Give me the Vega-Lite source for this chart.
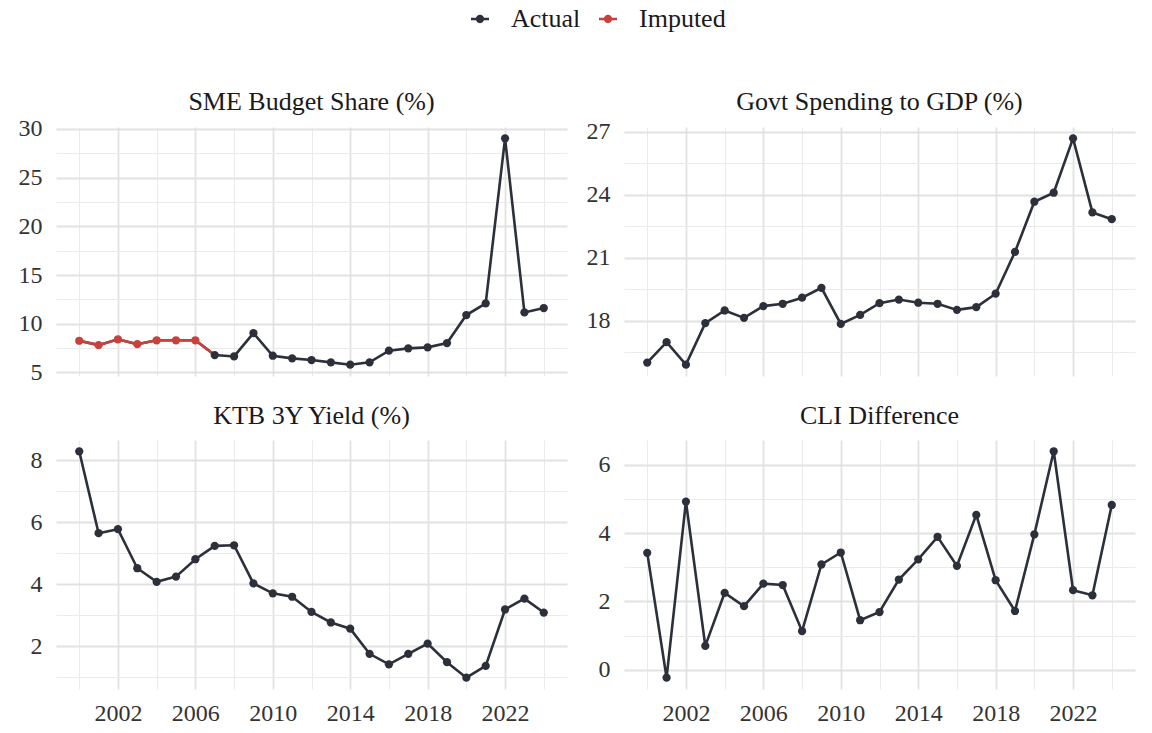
{
  "$schema": "https://vega.github.io/schema/vega-lite/v6.json",
  "description": "Four small multiples of Korean macro series, 2000-2024, with imputed SME budget share shown in red.",
  "background": "white",
  "padding": {"left": 18, "top": 6, "right": 18, "bottom": 8},
  "data": {
    "values": [
      {"panel": "SME", "year": 2000, "value": 8.25, "status": "Imputed"},
      {"panel": "SME", "year": 2001, "value": 7.8, "status": "Imputed"},
      {"panel": "SME", "year": 2002, "value": 8.4, "status": "Imputed"},
      {"panel": "SME", "year": 2003, "value": 7.9, "status": "Imputed"},
      {"panel": "SME", "year": 2004, "value": 8.3, "status": "Imputed"},
      {"panel": "SME", "year": 2005, "value": 8.3, "status": "Imputed"},
      {"panel": "SME", "year": 2006, "value": 8.3, "status": "Imputed"},
      {"panel": "SME", "year": 2007, "value": 6.78, "status": "Actual"},
      {"panel": "SME", "year": 2008, "value": 6.64, "status": "Actual"},
      {"panel": "SME", "year": 2009, "value": 9.04, "status": "Actual"},
      {"panel": "SME", "year": 2010, "value": 6.71, "status": "Actual"},
      {"panel": "SME", "year": 2011, "value": 6.44, "status": "Actual"},
      {"panel": "SME", "year": 2012, "value": 6.27, "status": "Actual"},
      {"panel": "SME", "year": 2013, "value": 6.03, "status": "Actual"},
      {"panel": "SME", "year": 2014, "value": 5.79, "status": "Actual"},
      {"panel": "SME", "year": 2015, "value": 6.03, "status": "Actual"},
      {"panel": "SME", "year": 2016, "value": 7.23, "status": "Actual"},
      {"panel": "SME", "year": 2017, "value": 7.47, "status": "Actual"},
      {"panel": "SME", "year": 2018, "value": 7.57, "status": "Actual"},
      {"panel": "SME", "year": 2019, "value": 8.01, "status": "Actual"},
      {"panel": "SME", "year": 2020, "value": 10.89, "status": "Actual"},
      {"panel": "SME", "year": 2021, "value": 12.09, "status": "Actual"},
      {"panel": "SME", "year": 2022, "value": 29.04, "status": "Actual"},
      {"panel": "SME", "year": 2023, "value": 11.16, "status": "Actual"},
      {"panel": "SME", "year": 2024, "value": 11.61, "status": "Actual"},
      {"panel": "GOV", "year": 2000, "value": 16.0, "status": "Actual"},
      {"panel": "GOV", "year": 2001, "value": 16.97, "status": "Actual"},
      {"panel": "GOV", "year": 2002, "value": 15.9, "status": "Actual"},
      {"panel": "GOV", "year": 2003, "value": 17.88, "status": "Actual"},
      {"panel": "GOV", "year": 2004, "value": 18.48, "status": "Actual"},
      {"panel": "GOV", "year": 2005, "value": 18.13, "status": "Actual"},
      {"panel": "GOV", "year": 2006, "value": 18.69, "status": "Actual"},
      {"panel": "GOV", "year": 2007, "value": 18.8, "status": "Actual"},
      {"panel": "GOV", "year": 2008, "value": 19.09, "status": "Actual"},
      {"panel": "GOV", "year": 2009, "value": 19.56, "status": "Actual"},
      {"panel": "GOV", "year": 2010, "value": 17.84, "status": "Actual"},
      {"panel": "GOV", "year": 2011, "value": 18.27, "status": "Actual"},
      {"panel": "GOV", "year": 2012, "value": 18.83, "status": "Actual"},
      {"panel": "GOV", "year": 2013, "value": 19.0, "status": "Actual"},
      {"panel": "GOV", "year": 2014, "value": 18.85, "status": "Actual"},
      {"panel": "GOV", "year": 2015, "value": 18.8, "status": "Actual"},
      {"panel": "GOV", "year": 2016, "value": 18.51, "status": "Actual"},
      {"panel": "GOV", "year": 2017, "value": 18.64, "status": "Actual"},
      {"panel": "GOV", "year": 2018, "value": 19.28, "status": "Actual"},
      {"panel": "GOV", "year": 2019, "value": 21.27, "status": "Actual"},
      {"panel": "GOV", "year": 2020, "value": 23.66, "status": "Actual"},
      {"panel": "GOV", "year": 2021, "value": 24.09, "status": "Actual"},
      {"panel": "GOV", "year": 2022, "value": 26.68, "status": "Actual"},
      {"panel": "GOV", "year": 2023, "value": 23.15, "status": "Actual"},
      {"panel": "GOV", "year": 2024, "value": 22.83, "status": "Actual"},
      {"panel": "KTB", "year": 2000, "value": 8.29, "status": "Actual"},
      {"panel": "KTB", "year": 2001, "value": 5.65, "status": "Actual"},
      {"panel": "KTB", "year": 2002, "value": 5.78, "status": "Actual"},
      {"panel": "KTB", "year": 2003, "value": 4.52, "status": "Actual"},
      {"panel": "KTB", "year": 2004, "value": 4.08, "status": "Actual"},
      {"panel": "KTB", "year": 2005, "value": 4.25, "status": "Actual"},
      {"panel": "KTB", "year": 2006, "value": 4.81, "status": "Actual"},
      {"panel": "KTB", "year": 2007, "value": 5.24, "status": "Actual"},
      {"panel": "KTB", "year": 2008, "value": 5.26, "status": "Actual"},
      {"panel": "KTB", "year": 2009, "value": 4.03, "status": "Actual"},
      {"panel": "KTB", "year": 2010, "value": 3.71, "status": "Actual"},
      {"panel": "KTB", "year": 2011, "value": 3.6, "status": "Actual"},
      {"panel": "KTB", "year": 2012, "value": 3.11, "status": "Actual"},
      {"panel": "KTB", "year": 2013, "value": 2.77, "status": "Actual"},
      {"panel": "KTB", "year": 2014, "value": 2.57, "status": "Actual"},
      {"panel": "KTB", "year": 2015, "value": 1.76, "status": "Actual"},
      {"panel": "KTB", "year": 2016, "value": 1.42, "status": "Actual"},
      {"panel": "KTB", "year": 2017, "value": 1.76, "status": "Actual"},
      {"panel": "KTB", "year": 2018, "value": 2.09, "status": "Actual"},
      {"panel": "KTB", "year": 2019, "value": 1.49, "status": "Actual"},
      {"panel": "KTB", "year": 2020, "value": 0.99, "status": "Actual"},
      {"panel": "KTB", "year": 2021, "value": 1.37, "status": "Actual"},
      {"panel": "KTB", "year": 2022, "value": 3.19, "status": "Actual"},
      {"panel": "KTB", "year": 2023, "value": 3.54, "status": "Actual"},
      {"panel": "KTB", "year": 2024, "value": 3.09, "status": "Actual"},
      {"panel": "CLI", "year": 2000, "value": 3.42, "status": "Actual"},
      {"panel": "CLI", "year": 2001, "value": -0.23, "status": "Actual"},
      {"panel": "CLI", "year": 2002, "value": 4.92, "status": "Actual"},
      {"panel": "CLI", "year": 2003, "value": 0.7, "status": "Actual"},
      {"panel": "CLI", "year": 2004, "value": 2.25, "status": "Actual"},
      {"panel": "CLI", "year": 2005, "value": 1.86, "status": "Actual"},
      {"panel": "CLI", "year": 2006, "value": 2.52, "status": "Actual"},
      {"panel": "CLI", "year": 2007, "value": 2.48, "status": "Actual"},
      {"panel": "CLI", "year": 2008, "value": 1.13, "status": "Actual"},
      {"panel": "CLI", "year": 2009, "value": 3.08, "status": "Actual"},
      {"panel": "CLI", "year": 2010, "value": 3.43, "status": "Actual"},
      {"panel": "CLI", "year": 2011, "value": 1.45, "status": "Actual"},
      {"panel": "CLI", "year": 2012, "value": 1.69, "status": "Actual"},
      {"panel": "CLI", "year": 2013, "value": 2.64, "status": "Actual"},
      {"panel": "CLI", "year": 2014, "value": 3.23, "status": "Actual"},
      {"panel": "CLI", "year": 2015, "value": 3.89, "status": "Actual"},
      {"panel": "CLI", "year": 2016, "value": 3.04, "status": "Actual"},
      {"panel": "CLI", "year": 2017, "value": 4.53, "status": "Actual"},
      {"panel": "CLI", "year": 2018, "value": 2.62, "status": "Actual"},
      {"panel": "CLI", "year": 2019, "value": 1.72, "status": "Actual"},
      {"panel": "CLI", "year": 2020, "value": 3.96, "status": "Actual"},
      {"panel": "CLI", "year": 2021, "value": 6.39, "status": "Actual"},
      {"panel": "CLI", "year": 2022, "value": 2.33, "status": "Actual"},
      {"panel": "CLI", "year": 2023, "value": 2.18, "status": "Actual"},
      {"panel": "CLI", "year": 2024, "value": 4.82, "status": "Actual"}
    ]
  },
  "columns": 2,
  "bounds": "flush",
  "spacing": {"row": 64, "column": 57},
  "concat": [
    {
      "title": {"text": "SME Budget Share (%)", "offset": 2},
      "width": 511,
      "height": 249,
      "transform": [{"filter": "datum.panel === 'SME'"}],
      "layer": [
        {
          "mark": {"type": "line", "color": "#2b303a", "strokeWidth": 2.6},
          "encoding": {
            "x": {"field": "year", "type": "quantitative", "scale": {"domain": [1998.8, 2025.2], "nice": false, "zero": false},
                  "axis": {"title": null, "orient": "bottom", "values": [2002, 2006, 2010, 2014, 2018, 2022], "labels": false, "grid": true, "gridWidth": 1.8}},
            "y": {"field": "value", "type": "quantitative", "scale": {"domain": [4.63, 30.2], "nice": false, "zero": false},
                  "axis": {"title": null, "orient": "left", "values": [5, 10, 15, 20, 25, 30], "grid": true, "gridWidth": 1.8}}
          }
        },
        {
          "transform": [{"filter": "datum.year <= 2007"}],
          "mark": {"type": "line", "color": "#c9413d", "strokeWidth": 2.6},
          "encoding": {
            "x": {"field": "year", "type": "quantitative", "axis": null},
            "y": {"field": "value", "type": "quantitative", "axis": null}
          }
        },
        {
          "transform": [{"filter": "datum.status === 'Actual'"}],
          "mark": {"type": "point", "filled": true, "size": 68, "opacity": 1, "color": "#2b303a"},
          "encoding": {
            "x": {"field": "year", "type": "quantitative",
                  "axis": {"title": null, "orient": "top", "values": [2000, 2004, 2008, 2012, 2016, 2020, 2024], "labels": false, "grid": true, "gridWidth": 1, "gridColor": "#ebebeb", "minExtent": 0}},
            "y": {"field": "value", "type": "quantitative",
                  "axis": {"title": null, "orient": "right", "values": [7.5, 12.5, 17.5, 22.5, 27.5], "labels": false, "grid": true, "gridWidth": 1, "gridColor": "#ebebeb", "minExtent": 0}}
          }
        },
        {
          "transform": [{"filter": "datum.status === 'Imputed'"}],
          "mark": {"type": "point", "filled": true, "size": 68, "opacity": 1, "color": "#c9413d"},
          "encoding": {
            "x": {"field": "year", "type": "quantitative", "axis": null},
            "y": {"field": "value", "type": "quantitative", "axis": null}
          }
        },
        {
          "mark": {"type": "point", "filled": true, "opacity": 0, "size": 324,
                   "shape": "M-1,-0.13L1,-0.13L1,0.13L-1,0.13Z M-0.46,0A0.46,0.46,0,1,1,0.46,0A0.46,0.46,0,1,1,-0.46,0Z"},
          "encoding": {
            "x": {"field": "year", "type": "quantitative", "axis": null},
            "y": {"field": "value", "type": "quantitative", "axis": null},
            "color": {"field": "status", "type": "nominal",
                      "scale": {"domain": ["Actual", "Imputed"], "range": ["#2b303a", "#c9413d"]},
                      "legend": {"title": null, "orient": "none", "direction": "horizontal", "legendX": 411, "legendY": -121,
                                 "symbolOpacity": 1, "symbolSize": 324, "labelFontSize": 26, "labelOffset": 18, "columnPadding": 14, "padding": 0,
                                 "labelColor": "#1a1a1a", "labelFont": "Liberation Serif"}}
          }
        }
      ],
      "resolve": {"axis": {"x": "independent", "y": "independent"}}
    },
    {
      "title": {"text": "Govt Spending to GDP (%)", "offset": 5},
      "width": 511,
      "height": 249,
      "transform": [{"filter": "datum.panel === 'GOV'"}],
      "layer": [
        {
          "mark": {"type": "line", "color": "#2b303a", "strokeWidth": 2.6},
          "encoding": {
            "x": {"field": "year", "type": "quantitative", "scale": {"domain": [1998.8, 2025.2], "nice": false, "zero": false},
                  "axis": {"title": null, "orient": "bottom", "values": [2002, 2006, 2010, 2014, 2018, 2022], "labels": false, "grid": true, "gridWidth": 1.8}},
            "y": {"field": "value", "type": "quantitative", "scale": {"domain": [15.36, 27.22], "nice": false, "zero": false},
                  "axis": {"title": null, "orient": "left", "values": [18, 21, 24, 27], "grid": true, "gridWidth": 1.8}}
          }
        },
        {
          "mark": {"type": "point", "filled": true, "size": 68, "opacity": 1, "color": "#2b303a"},
          "encoding": {
            "x": {"field": "year", "type": "quantitative",
                  "axis": {"title": null, "orient": "top", "values": [2000, 2004, 2008, 2012, 2016, 2020, 2024], "labels": false, "grid": true, "gridWidth": 1, "gridColor": "#ebebeb", "minExtent": 0}},
            "y": {"field": "value", "type": "quantitative",
                  "axis": {"title": null, "orient": "right", "values": [16.5, 19.5, 22.5, 25.5], "labels": false, "grid": true, "gridWidth": 1, "gridColor": "#ebebeb", "minExtent": 0}}
          }
        }
      ],
      "resolve": {"axis": {"x": "independent", "y": "independent"}}
    },
    {
      "title": {"text": "KTB 3Y Yield (%)", "offset": 11},
      "width": 511,
      "height": 249,
      "transform": [{"filter": "datum.panel === 'KTB'"}],
      "layer": [
        {
          "mark": {"type": "line", "color": "#2b303a", "strokeWidth": 2.6},
          "encoding": {
            "x": {"field": "year", "type": "quantitative", "scale": {"domain": [1998.8, 2025.2], "nice": false, "zero": false},
                  "axis": {"title": null, "orient": "bottom", "values": [2002, 2006, 2010, 2014, 2018, 2022], "format": "d", "grid": true, "gridWidth": 1.8}},
            "y": {"field": "value", "type": "quantitative", "scale": {"domain": [0.625, 8.655], "nice": false, "zero": false},
                  "axis": {"title": null, "orient": "left", "values": [2, 4, 6, 8], "grid": true, "gridWidth": 1.8}}
          }
        },
        {
          "mark": {"type": "point", "filled": true, "size": 68, "opacity": 1, "color": "#2b303a"},
          "encoding": {
            "x": {"field": "year", "type": "quantitative",
                  "axis": {"title": null, "orient": "top", "values": [2000, 2004, 2008, 2012, 2016, 2020, 2024], "labels": false, "grid": true, "gridWidth": 1, "gridColor": "#ebebeb", "minExtent": 0}},
            "y": {"field": "value", "type": "quantitative",
                  "axis": {"title": null, "orient": "right", "values": [1, 3, 5, 7], "labels": false, "grid": true, "gridWidth": 1, "gridColor": "#ebebeb", "minExtent": 0}}
          }
        }
      ],
      "resolve": {"axis": {"x": "independent", "y": "independent"}}
    },
    {
      "title": {"text": "CLI Difference", "offset": 11},
      "width": 511,
      "height": 249,
      "transform": [{"filter": "datum.panel === 'CLI'"}],
      "layer": [
        {
          "mark": {"type": "line", "color": "#2b303a", "strokeWidth": 2.6},
          "encoding": {
            "x": {"field": "year", "type": "quantitative", "scale": {"domain": [1998.8, 2025.2], "nice": false, "zero": false},
                  "axis": {"title": null, "orient": "bottom", "values": [2002, 2006, 2010, 2014, 2018, 2022], "format": "d", "grid": true, "gridWidth": 1.8}},
            "y": {"field": "value", "type": "quantitative", "scale": {"domain": [-0.561, 6.72], "nice": false, "zero": false},
                  "axis": {"title": null, "orient": "left", "values": [0, 2, 4, 6], "grid": true, "gridWidth": 1.8}}
          }
        },
        {
          "mark": {"type": "point", "filled": true, "size": 68, "opacity": 1, "color": "#2b303a"},
          "encoding": {
            "x": {"field": "year", "type": "quantitative",
                  "axis": {"title": null, "orient": "top", "values": [2000, 2004, 2008, 2012, 2016, 2020, 2024], "labels": false, "grid": true, "gridWidth": 1, "gridColor": "#ebebeb", "minExtent": 0}},
            "y": {"field": "value", "type": "quantitative",
                  "axis": {"title": null, "orient": "right", "values": [1, 3, 5], "labels": false, "grid": true, "gridWidth": 1, "gridColor": "#ebebeb", "minExtent": 0}}
          }
        }
      ],
      "resolve": {"axis": {"x": "independent", "y": "independent"}}
    }
  ],
  "resolve": {"scale": {"x": "independent", "y": "independent"}},
  "config": {
    "font": "Liberation Serif",
    "view": {"stroke": null},
    "axis": {
      "domain": false,
      "ticks": false,
      "tickSize": 0,
      "labelFont": "Liberation Serif",
      "labelFontSize": 24,
      "labelColor": "#333333",
      "labelPadding": 14,
      "gridColor": "#e2e2e2"
    },
    "axisX": {"labelPadding": 12},
    "title": {"font": "Liberation Serif", "fontSize": 26, "fontWeight": "normal", "color": "#1a1a1a", "anchor": "middle"}
  }
}
